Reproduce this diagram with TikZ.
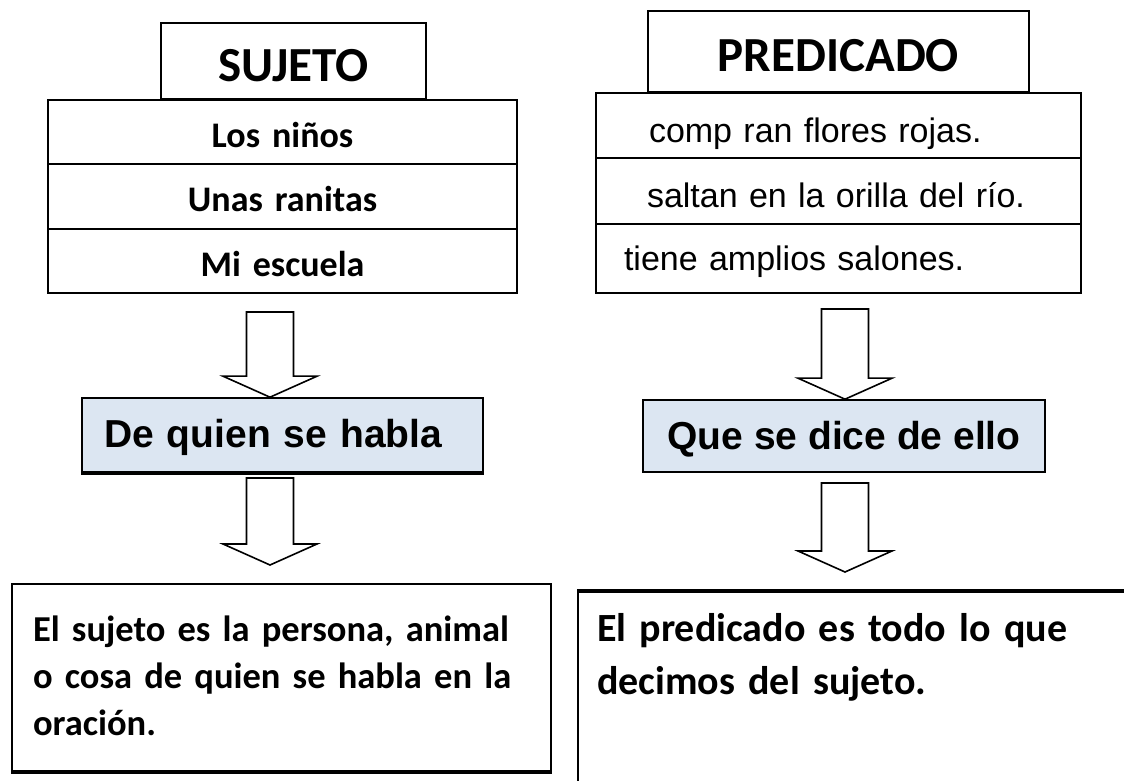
\documentclass[tikz,border=0pt]{standalone}
\usepackage{fontspec}
\setmainfont{Carlito}
\newfontfamily\arialfont{Liberation Sans}
\usetikzlibrary{calc}
\definecolor{paleblue}{HTML}{DCE6F2}
% hollow block arrow from a start point down to a tip
\newcommand{\blockarrow}[2]{%
  \draw[blockarr] let \p1=(#1), \p2=(#2) in
    (\x1-23.5bp,\y1) -- (\x1+23.5bp,\y1) -- (\x1+23.5bp,\y2+21bp)
    -- (\x1+47bp,\y2+21bp) -- (\x2,\y2) -- (\x1-47bp,\y2+21bp)
    -- (\x1-23.5bp,\y2+21bp) -- cycle;}

\begin{document}
\begin{tikzpicture}[line join=miter,
  framebox/.style={draw,rectangle,line width=1.6bp,inner ysep=0pt},
  titlebox/.style={framebox,inner xsep=0pt,font=\bfseries\fontsize{49bp}{58bp}\selectfont},
  rowsuj/.style={framebox,inner xsep=0pt,text width=469bp,align=center,font=\bfseries\fontsize{36bp}{42bp}\selectfont},
  rowpred/.style={framebox,align=left,font=\arialfont\fontsize{34bp}{40bp}\selectfont},
  bluebox/.style={framebox,fill=paleblue,font=\arialfont\bfseries\fontsize{39bp}{46bp}\selectfont},
  defbox/.style={framebox,align=left,font=\bfseries\fontsize{36.5bp}{47bp}\selectfont},
  blockarr/.style={draw,line width=1.6bp,fill=white}]
\useasboundingbox (0,0) rectangle (1124bp,781bp);
\clip (0,0) rectangle (1124bp,781bp);
%%
\coordinate (suj1) at (270bp,469bp);
  \coordinate (suj2) at (270bp,303bp);
  \coordinate (suj2tip) at (270bp,216bp);
  \coordinate (pred1) at (845bp,472bp);
  \coordinate (pred2) at (845bp,298bp);
  \coordinate (pred2tip) at (845bp,209bp);
%
\node (sujeto) at (293.5bp,720bp) [titlebox,minimum width=265bp,text height=59bp,text depth=17bp] {SUJETO};
  \node (ninos) at (282.5bp,649bp) [rowsuj,text height=48bp,text depth=16bp] {Los niños};
  \node (ranitas) at (282.5bp,584.5bp) [rowsuj,text height=48bp,text depth=17bp] {Unas ranitas};
  \node (escuela) at (282.5bp,520bp) [rowsuj,text height=48bp,text depth=16bp] {Mi escuela};
  \node (predicado) at (838.5bp,729.5bp) [titlebox,minimum width=381bp,text height=61bp,text depth=20bp] {PREDICADO};
  \node (compran) at (838.5bp,655.5bp) [rowpred,inner xsep=53bp,text width=379bp,text height=50bp,text depth=15bp] {comp ran flores rojas.};
  \node (saltan) at (838.5bp,590bp) [rowpred,inner xsep=51bp,text width=383bp,text height=50bp,text depth=16bp] {saltan en la orilla del río.};
  \node (tiene) at (838.5bp,522.5bp) [rowpred,inner xsep=28bp,text width=429bp,text height=47bp,text depth=22bp] {tiene amplios salones.};
  \node (quien) at (282.5bp,346bp) [bluebox,inner xsep=22bp,text width=357bp,align=left,text height=50bp,text depth=24bp] {De quien se habla};
  \node (dice) at (844bp,345bp) [bluebox,inner xsep=0pt,minimum width=402bp,text height=50bp,text depth=22bp] {Que se dice de ello};
  \node (defsuj) at (281.5bp,103.5bp) [defbox,inner xsep=21bp,text width=497bp,text height=58bp,text depth=129bp] {El sujeto es la persona, animal\\o cosa de quien se habla en la\\oración.};
  \node (defpred) at (859bp,85bp) [defbox,inner xsep=19bp,text width=524bp,text height=50bp,text depth=158bp,font=\bfseries\fontsize{40bp}{53bp}\selectfont] {El predicado es todo lo que\\decimos del sujeto.};
  \draw [line width=3.5bp] (quien.south west) -- (quien.south east);
  \draw [line width=3.5bp] (defsuj.south west) -- (defsuj.south east);
  \draw [line width=3.5bp] (defpred.north west) -- (defpred.north east);
  \blockarrow{suj1}{suj1 |- quien.north}
  \blockarrow{suj2}{suj2tip}
  \blockarrow{pred1}{pred1 |- dice.north}
  \blockarrow{pred2}{pred2tip}
%
\end{tikzpicture}
\end{document}
